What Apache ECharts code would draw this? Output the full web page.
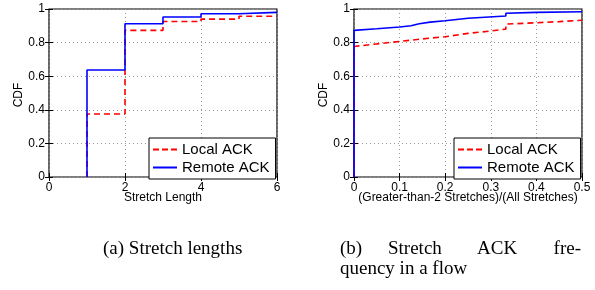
<!DOCTYPE html>
<html><head><meta charset="utf-8">
<script src="https://cdn.jsdelivr.net/npm/echarts@6/dist/echarts.min.js"></script>
<style>html,body{margin:0;padding:0;background:#fff}#c{width:595px;height:290px}</style>
</head><body><div id="c"></div>
<script>
// (a) Stretch lengths: CDF points [stretch length, CDF], drawn as steps
var lenLocal = [[1,0],[1,0.375],[2,0.873],[3,0.926],[4,0.94],[5,0.957],[6,0.957]];
var lenRemote = [[1,0],[1,0.637],[2,0.912],[3,0.952],[4,0.972],[5,0.98],[6,0.98]];
// (b) Stretch ACK frequency: [fraction, CDF]
var freqLocal = [[0,0],[0,0.777],[0.05,0.792],[0.1,0.807],[0.15,0.822],[0.2,0.835],[0.2,0.843],[0.25,0.855],[0.3,0.869],[0.333,0.88],[0.333,0.91],[0.4,0.918],[0.45,0.925],[0.5,0.933]];
var freqRemote = [[0,0],[0,0.873],[0.05,0.882],[0.1,0.893],[0.125,0.9],[0.125,0.908],[0.143,0.912],[0.143,0.918],[0.167,0.922],[0.2,0.93],[0.2,0.937],[0.25,0.945],[0.25,0.953],[0.333,0.958],[0.333,0.975],[0.4,0.98],[0.5,0.984]];
var yTicks = [0, 0.2, 0.4, 0.6, 0.8, 1];
var xTicksA = [0, 2, 4, 6];
var xTicksB = [0, 0.1, 0.2, 0.3, 0.4, 0.5];
var seriesNames = ['Local ACK', 'Remote ACK'];
var xNameA = 'Stretch Length';
var xNameB = '(Greater-than-2 Stretches)/(All Stretches)';
var yName = 'CDF';
var captionA = '(a) Stretch lengths';

var SANS = 'Liberation Sans, Arial, Helvetica, sans-serif';
var SERIF = 'Liberation Serif, Times New Roman, serif';
var RED = '#ff0000', BLUE = '#0000ff';
var DASH_ICON = 'path://M0,0h6v2h-6z M9,0h6v2h-6z M18,0h6v2h-6z';
var SOLID_ICON = 'path://M0,0h24v2h-24z';

function fmt(v){ return String(Math.round(v*10)/10); }

function xAx(gi, ticks, pos){
  var main = pos === 'bottom';
  return {
    type:'value', gridIndex:gi, position:pos,
    min:ticks[0], max:ticks[ticks.length-1], interval:ticks[1]-ticks[0],
    axisLine:{show:false},
    axisTick:{show:true, inside:true, length:4, lineStyle:{color:'#000', width:1}},
    axisLabel:{show:main, color:'#000', fontFamily:SANS, fontSize:12, margin:5,
      formatter:function(v){return fmt(v);}},
    splitLine:{show:main, lineStyle:{color:'#999', type:[1,3], width:1}}
  };
}
function yAx(gi, pos){
  var main = pos === 'left';
  return {
    type:'value', gridIndex:gi, position:pos, min:yTicks[0], max:yTicks[yTicks.length-1], interval:yTicks[1]-yTicks[0],
    axisLine:{show:false},
    axisTick:{show:true, inside:true, length:4, lineStyle:{color:'#000', width:1}},
    axisLabel:{show:main, color:'#000', fontFamily:SANS, fontSize:12, margin:4,
      formatter:function(v){return fmt(v);}},
    splitLine:{show:main, lineStyle:{color:'#999', type:[1,3], width:1}}
  };
}
function ser(name, data, xi, yi, color, dashed, step){
  var s = {
    name:name, type:'line', xAxisIndex:xi, yAxisIndex:yi, data:data,
    symbol:'none', animation:false, silent:true,
    lineStyle:{color:color, width:1.6, type:dashed?[6,4]:'solid'},
    itemStyle:{color:color}
  };
  if (step) s.step = 'end';
  return s;
}
function legend(left){
  return {
    orient:'vertical', left:left, top:138,
    data:[{name:seriesNames[0], icon:DASH_ICON, itemStyle:{color:RED}},
          {name:seriesNames[1], icon:SOLID_ICON, itemStyle:{color:BLUE}}],
    itemWidth:24, itemHeight:2, itemGap:3,
    padding:[4,6,4,4],
    borderColor:'#000', borderWidth:1, backgroundColor:'#fff',
    textStyle:{color:'#000', fontFamily:SANS, fontSize:15, lineHeight:15},
    selectedMode:false
  };
}

var chart = echarts.init(document.getElementById('c'), null, {renderer:'canvas'});
chart.setOption({
  animation:false,
  grid:[
    {left:49, top:9, width:228, height:168, show:true, borderColor:'#000', borderWidth:1.2, backgroundColor:'transparent'},
    {left:354, top:9, width:228, height:168, show:true, borderColor:'#000', borderWidth:1.2, backgroundColor:'transparent'}
  ],
  xAxis:[xAx(0,xTicksA,'bottom'), xAx(0,xTicksA,'top'), xAx(1,xTicksB,'bottom'), xAx(1,xTicksB,'top')],
  yAxis:[yAx(0,'left'), yAx(0,'right'), yAx(1,'left'), yAx(1,'right')],
  legend:[legend(149), legend(454)],
  series:[
    ser(seriesNames[0], lenLocal, 0, 0, RED, true, true),
    ser(seriesNames[1], lenRemote, 0, 0, BLUE, false, true),
    ser(seriesNames[0], freqLocal, 2, 2, RED, true, false),
    ser(seriesNames[1], freqRemote, 2, 2, BLUE, false, false)
  ],
  graphic:[
    {type:'text', x:163, y:198, style:{text:xNameA, font:'12px '+SANS, fill:'#000', textAlign:'center', textVerticalAlign:'middle'}},
    {type:'text', x:468, y:198, style:{text:xNameB, font:'12px '+SANS, fill:'#000', textAlign:'center', textVerticalAlign:'middle'}},
    {type:'text', x:19, y:95, rotation:Math.PI/2, style:{text:yName, font:'12px '+SANS, fill:'#000', textAlign:'center', textVerticalAlign:'middle'}},
    {type:'text', x:324, y:95, rotation:Math.PI/2, style:{text:yName, font:'12px '+SANS, fill:'#000', textAlign:'center', textVerticalAlign:'middle'}},
    {type:'text', x:103, y:259, style:{text:captionA, font:'19px '+SERIF, fill:'#000', textAlign:'left', textVerticalAlign:'bottom'}},
    {type:'text', x:340, y:259, style:{text:'(b)', font:'19px '+SERIF, fill:'#000', textAlign:'left', textVerticalAlign:'bottom'}},
    {type:'text', x:388, y:259, style:{text:'Stretch', font:'19px '+SERIF, fill:'#000', textAlign:'left', textVerticalAlign:'bottom'}},
    {type:'text', x:477, y:259, style:{text:'ACK', font:'19px '+SERIF, fill:'#000', textAlign:'left', textVerticalAlign:'bottom'}},
    {type:'text', x:581, y:259, style:{text:'fre-', font:'19px '+SERIF, fill:'#000', textAlign:'right', textVerticalAlign:'bottom'}},
    {type:'text', x:340, y:279, style:{text:'quency in a flow', font:'19px '+SERIF, fill:'#000', textAlign:'left', textVerticalAlign:'bottom'}}
  ]
});
</script></body></html>
